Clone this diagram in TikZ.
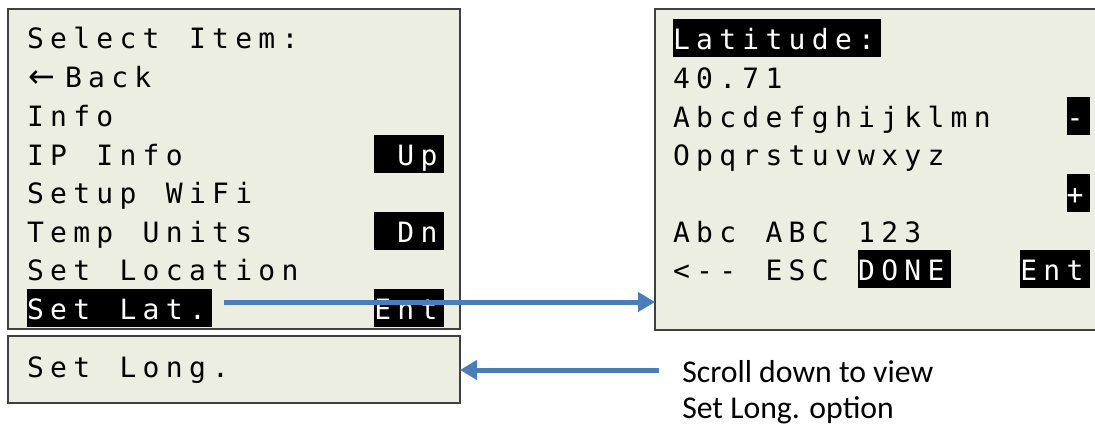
\documentclass[tikz,border=0pt]{standalone}
\usepackage{fontspec}
\usetikzlibrary{arrows.meta}
\newfontfamily\lcdfamily{DejaVu Sans Mono}
\newfontfamily\arrowfamily{DejaVu Sans}
\newfontfamily\capfamily{Carlito}
\definecolor{panelbg}{RGB}{235,238,224}
\definecolor{panelline}{RGB}{64,64,64}
\definecolor{arrowblue}{RGB}{74,126,187}
\newlength\cellw \setlength\cellw{17.36pt}
\ExplSyntaxOn
\NewDocumentCommand\lcd{m}{\tl_map_inline:nn{#1}{\makebox[\cellw][l]{##1}}}
\ExplSyntaxOff
\tikzset{
 panel/.style={draw=panelline, line width=1.2pt, fill=panelbg, inner sep=0pt, outer sep=0pt},
 lcdtxt/.style={font=\lcdfamily\fontsize{21pt}{25pt}\selectfont, anchor=base west, inner sep=0pt, outer sep=0pt},
 hl/.style={lcdtxt, fill=black, text=white, text height=22.5pt, text depth=6pt},
 flow/.style={draw=arrowblue, line width=3.75pt, -{Triangle[length=12.75pt,width=14.25pt]}},
 caption/.style={font=\capfamily\fontsize{23.8pt}{28pt}\selectfont, anchor=base west, inner sep=0pt}
}
\begin{document}
\begin{tikzpicture}[x=0.75pt,y=-0.75pt]
\useasboundingbox (0,0) rectangle (1095,425);
% panels
\node[panel, minimum width=339pt, minimum height=240pt] (menu) at (234,169) {};
\node[panel, minimum width=339pt, minimum height=50.25pt] (longbox) at (234,369.5) {};
\node[panel, minimum width=333.75pt, minimum height=240.75pt] (latbox) at (877.5,169.5) {};
% left menu
\node[lcdtxt] (m0) at (27,48) {\lcd{Select~Item:}};
\node[lcdtxt] (m1) at (27,87) {\makebox[28.5pt][l]{\hspace{1pt}{\arrowfamily\fontsize{24pt}{25pt}\selectfont ←}}\lcd{Back}};
\node[lcdtxt] (m2) at (27,126) {\lcd{Info}};
\node[lcdtxt] (m3) at (27,165) {\lcd{IP~Info}};
\node[hl] (up) at (374.25,165) {\lcd{~Up}};
\node[lcdtxt] (m4) at (27,203) {\lcd{Setup~WiFi}};
\node[lcdtxt] (m5) at (27,242) {\lcd{Temp~Units}};
\node[hl] (dn) at (374.25,242) {\lcd{~Dn}};
\node[lcdtxt] (m6) at (27,280) {\lcd{Set~Location}};
\node[hl] (m7) at (27,319) {\lcd{Set~Lat.}};
\node[hl] (ent1) at (374.25,319) {\lcd{Ent}};
\node[lcdtxt] (m8) at (27,377) {\lcd{Set~Long.}};
% right latitude screen
\node[hl] (l0) at (673,49) {\lcd{Latitude:}};
\node[lcdtxt] (l1) at (673,88) {\lcd{40.71}};
\node[lcdtxt] (l2) at (673,127) {\lcd{Abcdefghijklmn}};
\node[hl] (minus) at (1066.55,127) {\lcd{-}};
\node[lcdtxt] (l3) at (673,165) {\lcd{Opqrstuvwxyz}};
\node[hl] (plus) at (1066.55,204) {\lcd{+}};
\node[lcdtxt] (l4) at (673,242) {\lcd{Abc~ABC~123}};
\node[lcdtxt] (l5) at (673,280) {\lcd{<--~ESC}};
\node[hl] (done) at (858.2,280) {\lcd{DONE}};
\node[hl] (ent2) at (1020.25,280) {\lcd{Ent}};
% caption
\node[caption] (c1) at (682,382) {Scroll down to view};
\node[caption] (c2) at (682,418) {Set Long. option};
% arrows
\coordinate (a1) at (224,302);
\draw[flow] (a1) -- (a1 -| latbox.west);
\coordinate (a2) at (659,370);
\draw[flow] (a2) -- (a2 -| longbox.east);
\end{tikzpicture}
\end{document}
